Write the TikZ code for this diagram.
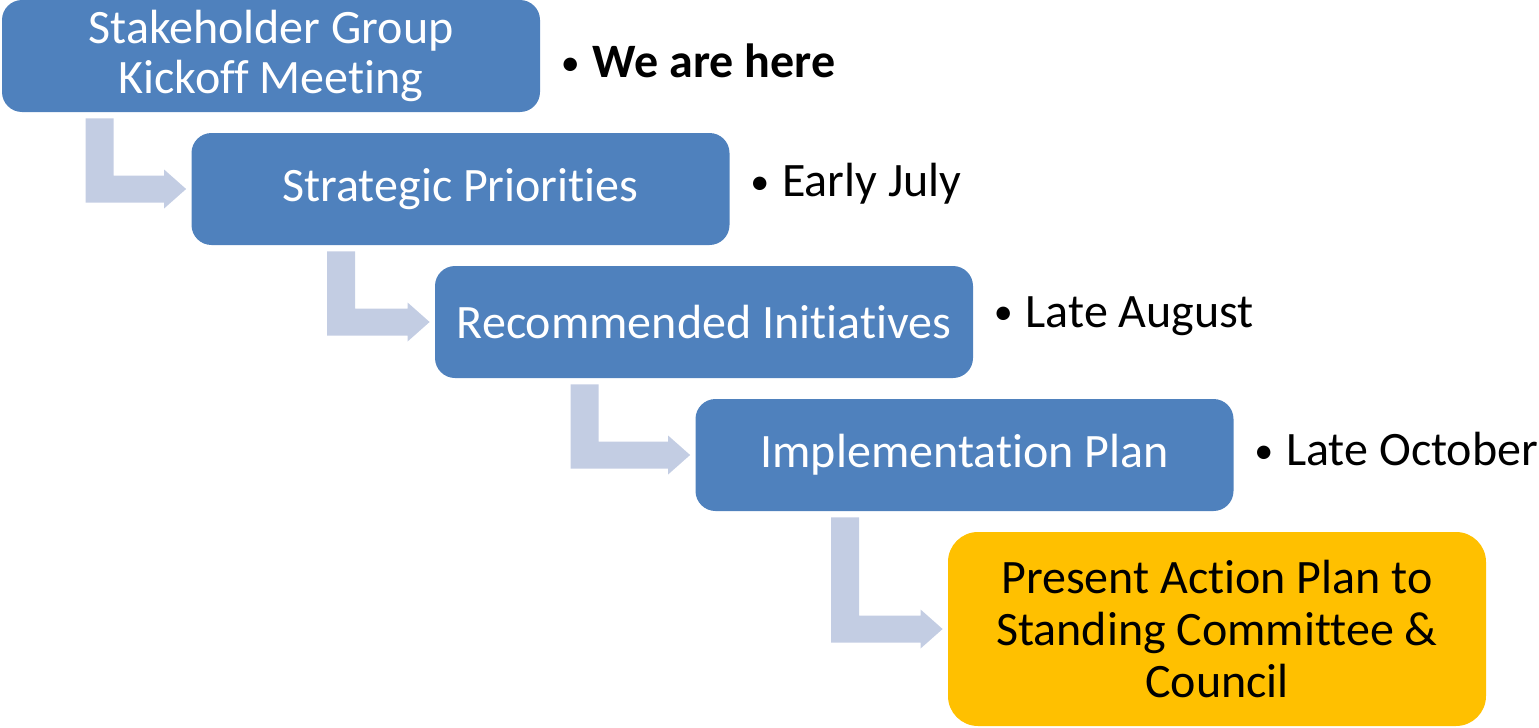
\documentclass[tikz,border=0pt]{standalone}
\usepackage{fontspec}
\setmainfont{Carlito}[Ligatures={NoCommon}]
\usepackage{tikz}
\usetikzlibrary{calc,positioning}
\definecolor{stepblue}{HTML}{4F81BD}
\definecolor{stepgold}{HTML}{FFC000}
\definecolor{elbowgrey}{HTML}{C3CDE3}
\newcommand{\whenbullet}{{\fontsize{19}{19}\selectfont\raisebox{1.2pt}{\textbullet}}\hspace{6.5pt}}
\begin{document}
\begin{tikzpicture}[x=0.5pt,y=-0.5pt]
    \tikzstyle{stage}=[rectangle,rounded corners=10pt,fill=stepblue,draw=none,text=white,
        minimum width=269pt,minimum height=56pt,align=center,inner sep=0pt,
        font=\fontsize{24}{25}\selectfont]
    \tikzstyle{goal}=[stage,rounded corners=15pt,fill=stepgold,text=black,minimum height=97pt,
        font=\fontsize{24}{26}\selectfont]
    \tikzstyle{when}=[anchor=west,inner sep=0pt,font=\fontsize{24}{25}\selectfont]
    \tikzstyle{elbow}=[fill=elbowgrey,draw=none]
    \useasboundingbox (0,0) rectangle (1539,728);
    % the five stages
    \node[stage] (kick) at (271,56) {Stakeholder Group\\Kickoff Meeting};
    \node[stage] (prio) at (460.5,189) {Strategic Priorities};
    \node[stage] (init) at (704,322) {Recommended Initiatives};
    \node[stage] (impl) at (964.5,455) {Implementation Plan};
    \node[goal]  (pres) at (1217,629) {Present Action Plan to\\Standing Committee \&\\Council};
    % dates
    \node[when] (tkick) at ($(kick.east)+(20,5)$) {\whenbullet\textbf{We are here}};
    \node[when] (tprio) at ($(prio.east)+(20,-5)$) {\whenbullet Early July};
    \node[when] (tinit) at ($(init.east)+(20,-6)$) {\whenbullet Late August};
    \node[when] (timpl) at ($(impl.east)+(20,-6)$) {\whenbullet Late October};
    % bent arrows between stages
    \foreach \a/\b/\dx in {kick/prio/84, prio/init/136, init/impl/136, impl/pres/136}
      \fill[elbow] let \p1=($(\a.south west)+(\dx,0)$), \p2=(\b.west) in
        (\x1,\y1-3pt) -- (\x1+14pt,\y1-3pt) -- (\x1+14pt,\y2+6.75pt)
        -- (\x2-13.5pt,\y2+6.75pt) -- (\x2-13.5pt,\y2+9.75pt) -- (\x2-2.5pt,\y2)
        -- (\x2-13.5pt,\y2-9.75pt) -- (\x2-13.5pt,\y2-6.75pt) -- (\x1,\y2-6.75pt) -- cycle;
\end{tikzpicture}
\end{document}
